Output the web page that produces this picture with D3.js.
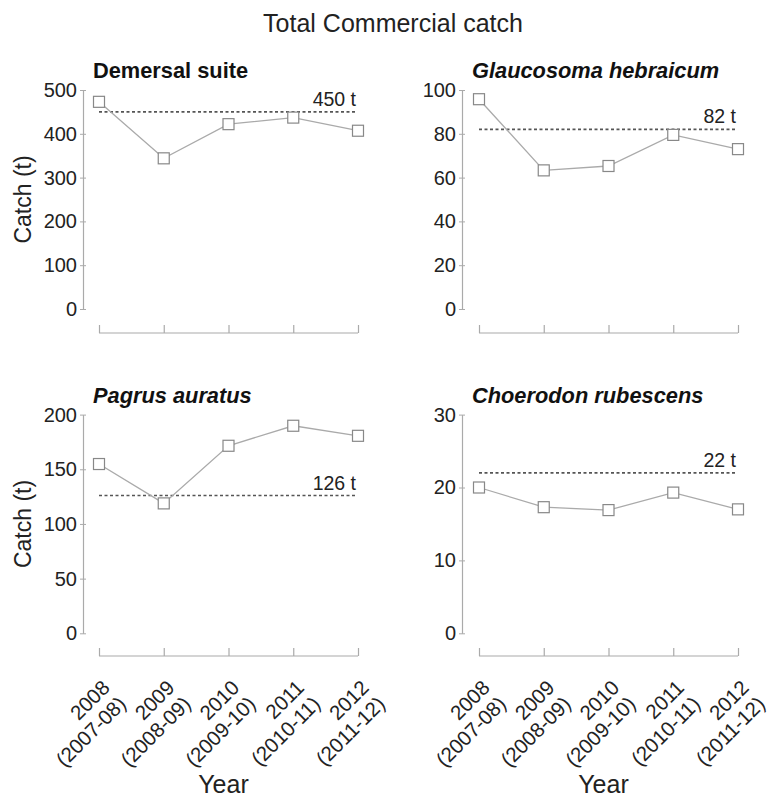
<!DOCTYPE html>
<html>
<head>
<meta charset="utf-8">
<script src="https://cdn.jsdelivr.net/npm/d3@7/dist/d3.min.js"></script>
<style>
  html, body { margin: 0; padding: 0; background: #fff; }
  svg { display: block; font-family: "Liberation Sans", Arial, Helvetica, sans-serif; }
</style>
</head>
<body>
<svg id="chart" width="772" height="798"></svg>
<script>
// ---- data ----
const years = ["2008", "2009", "2010", "2011", "2012"];
const seasons = ["(2007-08)", "(2008-09)", "(2009-10)", "(2010-11)", "(2011-12)"];
const panelTitles = ["Demersal suite", "Glaucosoma hebraicum", "Pagrus auratus", "Choerodon rubescens"];
const panelItalic = [false, true, true, true];
const demersal = [473, 344, 422, 437, 407];
const glaucosoma = [95.8, 63.3, 65.3, 79.5, 73.0];
const pagrus = [154.8, 118.8, 171.5, 189.8, 180.6];
const choerodon = [20.0, 17.3, 16.9, 19.3, 17.0];
const refValues = [450, 82, 126, 22];
const refLabels = ["450 t", "82 t", "126 t", "22 t"];
const yMaxes = [500, 100, 200, 30];
const yTicks = [
  [0, 100, 200, 300, 400, 500],
  [0, 20, 40, 60, 80, 100],
  [0, 50, 100, 150, 200],
  [0, 10, 20, 30]
];
const seriesList = [demersal, glaucosoma, pagrus, choerodon];

// ---- layout ----
const svg = d3.select("#chart");
const textColor = "#222";
const axisColor = "#aaa";
const cols = [
  { axisX: 83, x0: 99, x1: 358 },
  { axisX: 462, x0: 479, x1: 738 }
];
const rows = [
  { yTop: 90, yBottom: 309, xAxisY: 333 },
  { yTop: 414.6, yBottom: 633.3, xAxisY: 656 }
];

svg.append("text")
  .attr("x", 393).attr("y", 32)
  .attr("text-anchor", "middle")
  .attr("font-size", 25)
  .attr("fill", textColor)
  .text("Total Commercial catch");

seriesList.forEach((values, i) => {
  const c = cols[i % 2], r = rows[Math.floor(i / 2)];
  const g = svg.append("g");
  const x = d3.scalePoint().domain(years).range([c.x0, c.x1]);
  const y = d3.scaleLinear().domain([0, yMaxes[i]]).range([r.yBottom, r.yTop]);

  // y axis
  const yAxis = d3.axisLeft(y).tickValues(yTicks[i]).tickSize(3).tickPadding(3).tickSizeOuter(0);
  const ya = g.append("g").attr("transform", `translate(${c.axisX},0)`).call(yAxis);
  ya.select(".domain").attr("stroke", axisColor).attr("stroke-width", 1.2);
  ya.selectAll(".tick line").attr("stroke", axisColor).attr("x2", 3).attr("x1", -3);
  ya.selectAll(".tick text").attr("fill", textColor).attr("font-size", 20)
    .attr("font-family", "'Liberation Sans', Arial, sans-serif");

  // x axis (separate, ticks pointing up)
  const xAxis = d3.axisTop(x).tickSize(8).tickSizeOuter(0).tickFormat("");
  const xa = g.append("g").attr("transform", `translate(0,${r.xAxisY})`).call(xAxis);
  xa.select(".domain").attr("stroke", axisColor).attr("stroke-width", 1.2)
    .attr("d", `M${c.x0},0H${c.x1}`);
  xa.selectAll(".tick line").attr("stroke", axisColor).attr("stroke-width", 1.2);

  if (Math.floor(i / 2) === 1) {
    years.forEach((yr, k) => {
      const t = g.append("text")
        .attr("transform", `translate(${x(yr) + 12},${r.xAxisY + 33}) rotate(-45)`)
        .attr("text-anchor", "end")
        .attr("font-size", 20.5)
        .attr("fill", textColor);
      t.append("tspan").attr("x", 0).attr("y", 0).text(yr);
      t.append("tspan").attr("x", 0).attr("dy", 23).text(seasons[k]);
    });
    g.append("text")
      .attr("x", (c.x0 + c.x1) / 2 - 5).attr("y", 793)
      .attr("text-anchor", "middle")
      .attr("font-size", 25)
      .attr("fill", textColor)
      .text("Year");
  }

  if (i % 2 === 0) {
    g.append("text")
      .attr("transform", `translate(31,${(r.yTop + r.yBottom) / 2}) rotate(-90)`)
      .attr("text-anchor", "middle")
      .attr("font-size", 23)
      .attr("fill", textColor)
      .text("Catch (t)");
  }

  // panel title
  g.append("text")
    .attr("x", c.axisX + 10).attr("y", r.yTop - 12)
    .attr("font-size", 21.8)
    .attr("font-weight", "bold")
    .attr("font-style", panelItalic[i] ? "italic" : "normal")
    .attr("fill", "#111")
    .text(panelTitles[i]);

  // reference line
  g.append("line")
    .attr("x1", c.x0).attr("x2", c.x1 - 2)
    .attr("y1", y(refValues[i])).attr("y2", y(refValues[i]))
    .attr("stroke", "#555").attr("stroke-width", 1.6)
    .attr("stroke-dasharray", "3,2.5");
  g.append("text")
    .attr("x", c.x1 - 2).attr("y", y(refValues[i]) - 6)
    .attr("text-anchor", "end")
    .attr("font-size", 19.5)
    .attr("fill", textColor)
    .text(refLabels[i]);

  // series line
  const line = d3.line().x((d, k) => x(years[k])).y(d => y(d));
  g.append("path").datum(values)
    .attr("d", line)
    .attr("fill", "none")
    .attr("stroke", "#aaa")
    .attr("stroke-width", 1.3);

  // markers
  const s = 11;
  g.selectAll("rect.m").data(values).join("rect")
    .attr("class", "m")
    .attr("x", (d, k) => x(years[k]) - s / 2)
    .attr("y", d => y(d) - s / 2)
    .attr("width", s).attr("height", s)
    .attr("fill", "#fff")
    .attr("stroke", "#888")
    .attr("stroke-width", 1.2);
});
</script>
</body>
</html>
